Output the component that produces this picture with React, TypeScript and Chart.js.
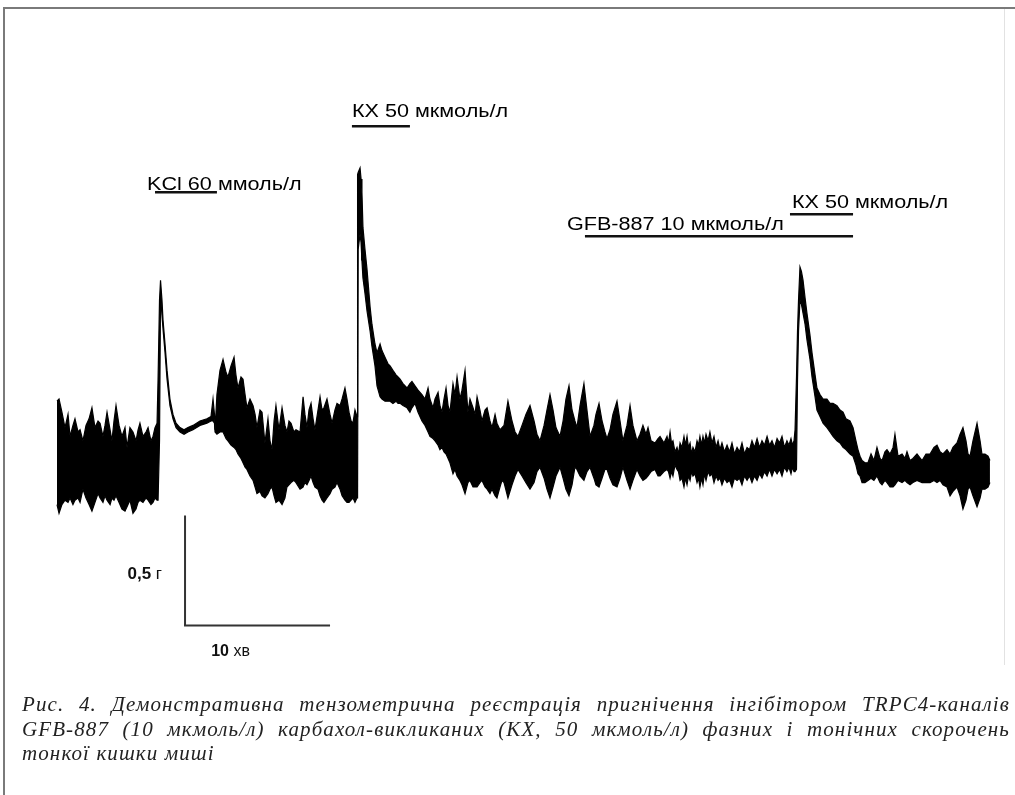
import React, { useEffect, useRef } from "react";
import { Chart, registerables } from "chart.js";

Chart.register(...registerables);

// time, minutes (10 min = scale bar)
const times = [
  0, 0.14, 0.34, 0.55, 0.76, 0.9, 1.1, 1.24, 1.45, 1.59, 1.79, 2.0, 2.21, 2.41, 2.62, 2.83, 2.97, 3.17, 3.31, 3.45,
  3.66, 3.79, 3.93, 4.07, 4.28, 4.48, 4.69, 4.83, 5.03, 5.24, 5.45, 5.59, 5.72, 5.93, 6.14, 6.28, 6.48, 6.62, 6.76, 6.9,
  6.97, 7.07, 7.14, 7.24, 7.31, 7.45, 7.59, 7.79, 8.0, 8.21, 8.48, 8.76, 9.03, 9.38, 9.86, 10.34, 10.62, 10.76, 10.86,
  10.9, 11.03, 11.24, 11.45, 11.66, 11.79, 12.0, 12.21, 12.34, 12.48, 12.69, 12.83, 12.97, 13.1, 13.31, 13.52, 13.66, 13.79, 14.0, 14.14,
  14.34, 14.55, 14.69, 14.83, 14.97, 15.1, 15.31, 15.52, 15.72, 15.86, 16.0, 16.14, 16.34, 16.48, 16.76, 16.97, 17.1, 17.24, 17.38, 17.52,
  17.66, 17.79, 18.0, 18.14, 18.28, 18.41, 18.62, 18.83, 18.97, 19.17, 19.31, 19.52, 19.66, 19.86, 20.0, 20.14, 20.28, 20.41, 20.55, 20.69,
  20.73, 20.77, 20.9, 20.97, 21.03, 21.1, 21.24, 21.38, 21.59, 21.72, 21.93, 22.07, 22.28, 22.41, 22.62, 22.83, 22.97, 23.17, 23.38, 23.52,
  23.66, 23.86, 24.14, 24.34, 24.48, 24.69, 24.9, 25.17, 25.38, 25.59, 25.72, 25.93, 26.07, 26.28, 26.41, 26.55, 26.69, 26.83, 26.97, 27.1,
  27.31, 27.45, 27.59, 27.79, 27.93, 28.14, 28.34, 28.48, 28.69, 28.83, 28.97, 29.17, 29.31, 29.52, 29.66, 29.86, 30.0, 30.21, 30.34, 30.55, 30.69,
  30.83, 31.1, 31.38, 31.59, 31.79, 32.07, 32.34, 32.62, 32.9, 33.1, 33.31, 33.59, 33.79, 34.0, 34.21, 34.41, 34.69, 34.9, 35.1, 35.31,
  35.52, 35.72, 35.86, 36.07, 36.34, 36.55, 36.76, 37.03, 37.17, 37.38, 37.59, 37.79, 37.93, 38.14, 38.34, 38.62, 38.83, 39.03, 39.31, 39.52,
  39.72, 40.0, 40.21, 40.41, 40.62, 40.76, 40.97, 41.24, 41.45, 41.59, 41.86, 42.07,
  42.17, 42.28, 42.38, 42.48, 42.62, 42.76, 42.86, 42.97, 43.1, 43.24, 43.34, 43.45, 43.55, 43.66, 43.76, 43.86, 44.0, 44.14, 44.24, 44.34,
  44.45, 44.55, 44.65, 44.76, 44.9, 45.03, 45.17, 45.31, 45.45, 45.59, 45.72, 45.86, 46.03, 46.21, 46.38, 46.55, 46.72, 46.9, 47.07, 47.24,
  47.41, 47.59, 47.76, 47.93, 48.1, 48.28, 48.45, 48.62, 48.79, 48.97, 49.14, 49.31, 49.48, 49.66, 49.83, 50.0, 50.17, 50.34, 50.48, 50.62,
  50.72, 50.83,
  50.9, 51.0, 51.07, 51.14, 51.24, 51.34, 51.45, 51.59, 51.72, 51.93, 52.07, 52.28, 52.41, 52.62, 52.83, 53.1, 53.31, 53.52, 53.79, 54.0,
  54.21, 54.41, 54.69, 54.9, 55.1, 55.24, 55.38, 55.52, 55.72, 55.93, 56.14, 56.34, 56.55, 56.76, 56.9, 57.1, 57.24, 57.45, 57.66, 57.79,
  58.0, 58.28, 58.48, 58.62, 58.83, 59.03, 59.31, 59.66, 59.93, 60.21, 60.48, 60.69, 60.9, 61.1, 61.38, 61.59, 61.79, 62.07, 62.28, 62.48,
  62.69, 62.83, 62.97, 63.17, 63.45, 63.66, 63.79, 64.0, 64.21, 64.34,
];

// upper envelope of the force trace, g
const forceUpper = [
  0.54, 0.55, 0.49, 0.42, 0.48, 0.38, 0.43, 0.46, 0.4, 0.41, 0.36, 0.43, 0.46, 0.51, 0.42, 0.45, 0.44, 0.38, 0.43, 0.49,
  0.41, 0.36, 0.45, 0.52, 0.43, 0.38, 0.42, 0.33, 0.42, 0.4, 0.36, 0.41, 0.44, 0.38, 0.4, 0.42, 0.36, 0.38, 0.42, 0.44,
  0.64, 1.0, 1.09, 1.0, 0.91, 0.8, 0.68, 0.55, 0.48, 0.44, 0.42, 0.41, 0.42, 0.43, 0.45, 0.46, 0.47, 0.55, 0.48,
  0.41, 0.57, 0.68, 0.73, 0.67, 0.65, 0.7, 0.74, 0.66, 0.6, 0.65, 0.64, 0.57, 0.51, 0.55, 0.52, 0.48, 0.42, 0.5, 0.49,
  0.35, 0.46, 0.36, 0.32, 0.45, 0.52, 0.41, 0.51, 0.43, 0.4, 0.45, 0.44, 0.4, 0.41, 0.4, 0.56, 0.48, 0.42, 0.5, 0.53,
  0.46, 0.41, 0.5, 0.56, 0.5, 0.51, 0.55, 0.48, 0.44, 0.5, 0.53, 0.52, 0.55, 0.6, 0.55, 0.49, 0.45, 0.44, 0.5, 0.47,
  1.57, 1.58, 1.6, 1.55, 1.49, 1.33, 1.23, 1.14, 0.97, 0.89, 0.8, 0.76, 0.8, 0.77, 0.74, 0.71, 0.7, 0.68, 0.66, 0.65,
  0.64, 0.62, 0.6, 0.62, 0.63, 0.61, 0.59, 0.57, 0.55, 0.6, 0.55, 0.51, 0.55, 0.58, 0.52, 0.49, 0.55, 0.6, 0.52, 0.49,
  0.62, 0.57, 0.65, 0.55, 0.59, 0.68, 0.49, 0.55, 0.51, 0.48, 0.56, 0.5, 0.45, 0.5, 0.51, 0.45, 0.42, 0.48, 0.44, 0.41, 0.42,
  0.43, 0.54, 0.45, 0.4, 0.38, 0.43, 0.48, 0.52, 0.45, 0.39, 0.36, 0.43, 0.5, 0.57, 0.5, 0.42, 0.38, 0.45, 0.55, 0.61,
  0.5, 0.45, 0.42, 0.52, 0.62, 0.5, 0.38, 0.43, 0.48, 0.53, 0.45, 0.4, 0.37, 0.41, 0.48, 0.54, 0.45, 0.36, 0.43, 0.52,
  0.43, 0.36, 0.39, 0.43, 0.39, 0.42, 0.36, 0.35, 0.37, 0.38, 0.35, 0.38,
  0.35, 0.4, 0.35, 0.36, 0.31, 0.33, 0.3, 0.35, 0.33, 0.38, 0.34, 0.38, 0.33, 0.35, 0.3, 0.33, 0.31, 0.36, 0.34, 0.38,
  0.34, 0.38, 0.35, 0.39, 0.36, 0.4, 0.35, 0.38, 0.33, 0.36, 0.32, 0.35, 0.31, 0.34, 0.31, 0.35, 0.3, 0.33, 0.31, 0.35,
  0.3, 0.33, 0.32, 0.36, 0.33, 0.37, 0.33, 0.36, 0.34, 0.38, 0.34, 0.36, 0.33, 0.37, 0.35, 0.38, 0.33, 0.36, 0.34, 0.37,
  0.34, 0.36,
  0.41, 0.65, 0.86, 1.0, 1.15, 1.13, 1.09, 1.01, 0.94, 0.84, 0.76, 0.66, 0.6, 0.57, 0.55, 0.55, 0.53, 0.53, 0.52, 0.5,
  0.49, 0.46, 0.45, 0.42, 0.36, 0.32, 0.29, 0.27, 0.26, 0.26, 0.3, 0.27, 0.33, 0.28, 0.27, 0.31, 0.32, 0.3, 0.33, 0.39,
  0.29, 0.3, 0.28, 0.31, 0.27, 0.28, 0.3, 0.27, 0.3, 0.3, 0.33, 0.34, 0.31, 0.3, 0.32, 0.3, 0.33, 0.35, 0.39, 0.42,
  0.36, 0.3, 0.29, 0.36, 0.44, 0.36, 0.3, 0.3, 0.29, 0.27,
];

// lower envelope of the force trace, g
const forceLower = [
  0.07, 0.03, 0.07, 0.09, 0.08, 0.1, 0.07, 0.09, 0.1, 0.08, 0.14, 0.1, 0.07, 0.04, 0.08, 0.12, 0.1, 0.08, 0.11, 0.09,
  0.07, 0.1, 0.09, 0.11, 0.08, 0.05, 0.04, 0.06, 0.09, 0.03, 0.05, 0.08, 0.09, 0.08, 0.1, 0.09, 0.07, 0.08, 0.1, 0.09,
  0.09, 0.36, 1.02, 0.93, 0.87, 0.76, 0.64, 0.52, 0.46, 0.42, 0.4, 0.39, 0.4, 0.41, 0.43, 0.44, 0.45, 0.45, 0.44,
  0.4, 0.39, 0.4, 0.4, 0.37, 0.36, 0.34, 0.33, 0.32, 0.3, 0.28, 0.26, 0.24, 0.23, 0.2, 0.18, 0.15, 0.12, 0.13, 0.11,
  0.1, 0.12, 0.14, 0.15, 0.11, 0.08, 0.09, 0.07, 0.1, 0.15, 0.16, 0.17, 0.18, 0.17, 0.14, 0.15, 0.17, 0.16, 0.18, 0.2,
  0.17, 0.15, 0.14, 0.11, 0.09, 0.08, 0.1, 0.12, 0.14, 0.15, 0.17, 0.14, 0.11, 0.09, 0.08, 0.08, 0.09, 0.1, 0.08, 0.1,
  0.14, 1.23, 1.3, 1.26, 1.18, 1.1, 1.03, 0.95, 0.86, 0.79, 0.7, 0.61, 0.56, 0.55, 0.54, 0.54, 0.54, 0.53, 0.54, 0.53,
  0.53, 0.52, 0.51, 0.49, 0.51, 0.53, 0.49, 0.45, 0.43, 0.4, 0.38, 0.37, 0.36, 0.34, 0.32, 0.33, 0.31, 0.3, 0.28, 0.26,
  0.21, 0.23, 0.2, 0.18, 0.16, 0.12, 0.17, 0.18, 0.15, 0.15, 0.15, 0.17, 0.18, 0.15, 0.14, 0.12, 0.14, 0.11, 0.1, 0.15, 0.18,
  0.17, 0.1, 0.16, 0.2, 0.23, 0.2, 0.17, 0.14, 0.17, 0.22, 0.24, 0.19, 0.14, 0.1, 0.15, 0.2, 0.24, 0.19, 0.14, 0.11,
  0.16, 0.24, 0.23, 0.2, 0.18, 0.22, 0.24, 0.19, 0.16, 0.15, 0.19, 0.23, 0.23, 0.19, 0.16, 0.15, 0.19, 0.24, 0.18, 0.14,
  0.18, 0.23, 0.2, 0.18, 0.19, 0.2, 0.22, 0.23, 0.2, 0.2, 0.22, 0.23,
  0.22, 0.19, 0.22, 0.2, 0.25, 0.23, 0.22, 0.18, 0.19, 0.15, 0.19, 0.16, 0.2, 0.18, 0.22, 0.2, 0.21, 0.17, 0.19, 0.15,
  0.19, 0.16, 0.21, 0.18, 0.22, 0.2, 0.21, 0.17, 0.2, 0.18, 0.19, 0.16, 0.19, 0.17, 0.18, 0.15, 0.19, 0.18, 0.19, 0.16,
  0.2, 0.18, 0.2, 0.17, 0.2, 0.18, 0.21, 0.19, 0.22, 0.2, 0.23, 0.2, 0.23, 0.21, 0.23, 0.2, 0.24, 0.22, 0.24, 0.21,
  0.24, 0.22,
  0.22, 0.23, 0.64, 0.86, 1.0, 0.98, 0.94, 0.89, 0.82, 0.73, 0.65, 0.56, 0.5, 0.47, 0.44, 0.42, 0.4, 0.38, 0.36, 0.35,
  0.33, 0.32, 0.3, 0.29, 0.25, 0.21, 0.2, 0.17, 0.17, 0.18, 0.19, 0.18, 0.2, 0.17, 0.16, 0.18, 0.17, 0.15, 0.15, 0.16,
  0.18, 0.17, 0.18, 0.17, 0.16, 0.17, 0.18, 0.17, 0.17, 0.17, 0.18, 0.17, 0.18, 0.16, 0.15, 0.11, 0.13, 0.15, 0.11, 0.05,
  0.09, 0.14, 0.15, 0.11, 0.06, 0.1, 0.14, 0.14, 0.15, 0.17,
];

// drug applications: label, bar start/end (min), bar level (g), label start (min), label baseline (g)
const drugNames = ["KCl 60 ммоль/л", "КХ 50 мкмоль/л", "GFB-887 10 мкмоль/л", "КХ 50 мкмоль/л"];
const drugStart = [6.76, 20.34, 36.41, 50.55];
const drugEnd = [11.03, 24.34, 54.9, 54.9];
const drugLevel = [1.49, 1.79, 1.29, 1.39];
const labelStart = [6.21, 20.34, 35.17, 50.69];
const labelLevel = [1.5, 1.83, 1.32, 1.42];

// calibration bar: 0.5 g, 10 min
const scaleBarT = [8.83, 8.83, 18.83];
const scaleBarG = [0.02, -0.48, -0.48];
const scaleLabels = ["0,5", "г", "10", "хв"];

const X_MIN = -3.931;
const X_MAX = 66.069;
const Y_MIN = -1.25;
const Y_MAX = 2.3636;

const captionLines = [
  "Рис. 4. Демонстративна тензометрична реєстрація пригнічення інгібітором TRPC4-каналів",
  "GFB-887 (10 мкмоль/л) карбахол-викликаних (КХ, 50 мкмоль/л) фазних і тонічних скорочень",
  "тонкої кишки миші",
];

const labelsPlugin = {
  id: "traceLabels",
  afterDatasetsDraw(chart: any) {
    const ctx = chart.ctx;
    const xs = chart.scales.x;
    const ys = chart.scales.y;
    ctx.save();
    ctx.fillStyle = "#000";
    ctx.textBaseline = "alphabetic";
    ctx.font = '18px "Liberation Sans", Arial, sans-serif';
    drugNames.forEach((name, i) => {
      const x = xs.getPixelForValue(labelStart[i]);
      const y = ys.getPixelForValue(labelLevel[i]);
      ctx.save();
      ctx.translate(x, y);
      ctx.scale(1.2, 1);
      ctx.fillText(name, 0, 0);
      ctx.restore();
    });
    ctx.fillStyle = "#111";
    // calibration labels
    const bx = xs.getPixelForValue(scaleBarT[0]);
    const by = ys.getPixelForValue((scaleBarG[0] + scaleBarG[1]) / 2);
    ctx.font = 'bold 17px "Liberation Sans", Arial, sans-serif';
    const w1 = ctx.measureText(scaleLabels[0] + " ").width;
    ctx.font = '17px "Liberation Sans", Arial, sans-serif';
    const w2 = ctx.measureText(scaleLabels[1]).width;
    const startX = bx - 23 - w1 - w2;
    ctx.font = 'bold 17px "Liberation Sans", Arial, sans-serif';
    ctx.fillText(scaleLabels[0], startX, by + 8);
    ctx.font = '17px "Liberation Sans", Arial, sans-serif';
    ctx.fillText(scaleLabels[1], startX + w1, by + 8);

    const hx = xs.getPixelForValue((scaleBarT[1] + scaleBarT[2]) / 2);
    const hy = ys.getPixelForValue(scaleBarG[2]);
    ctx.font = 'bold 16px "Liberation Sans", Arial, sans-serif';
    const w3 = ctx.measureText(scaleLabels[2] + " ").width;
    ctx.font = '16px "Liberation Sans", Arial, sans-serif';
    const w4 = ctx.measureText(scaleLabels[3]).width;
    const sx = hx - 27 - (w3 + w4) / 2;
    ctx.font = 'bold 16px "Liberation Sans", Arial, sans-serif';
    ctx.fillText(scaleLabels[2], sx, hy + 30);
    ctx.font = '16px "Liberation Sans", Arial, sans-serif';
    ctx.fillText(scaleLabels[3], sx + w3, hy + 30);
    ctx.restore();
  },
};

export default function App() {
  const ref = useRef<HTMLCanvasElement | null>(null);

  useEffect(() => {
    if (!ref.current) return;
    const upperData = times.map((t, i) => ({ x: t, y: forceUpper[i] }));
    const lowerData = times.map((t, i) => ({ x: t, y: forceLower[i] }));
    const drugSets = drugNames.map((name, i) => ({
      label: name,
      data: [
        { x: drugStart[i], y: drugLevel[i] },
        { x: drugEnd[i], y: drugLevel[i] },
      ],
      borderColor: "#111",
      borderWidth: 2.5,
      pointRadius: 0,
      fill: false,
    }));
    const chart = new Chart(ref.current, {
      type: "line",
      data: {
        datasets: [
          {
            label: "upper",
            data: upperData,
            borderColor: "#000",
            backgroundColor: "#000",
            borderWidth: 1.2,
            pointRadius: 0,
            tension: 0,
            fill: "+1",
          },
          {
            label: "lower",
            data: lowerData,
            borderColor: "#000",
            borderWidth: 1.2,
            pointRadius: 0,
            tension: 0,
            fill: false,
          },
          {
            label: "calibration",
            data: scaleBarT.map((t, i) => ({ x: t, y: scaleBarG[i] })),
            borderColor: "#333",
            borderWidth: 2,
            pointRadius: 0,
            fill: false,
          },
          ...drugSets,
        ],
      },
      options: {
        animation: false,
        responsive: false,
        devicePixelRatio: 1,
        events: [],
        layout: { padding: 0 },
        plugins: { legend: { display: false }, tooltip: { enabled: false } },
        scales: {
          x: { type: "linear", min: X_MIN, max: X_MAX, display: false },
          y: { type: "linear", min: Y_MIN, max: Y_MAX, display: false },
        },
      },
      plugins: [labelsPlugin],
    });
    return () => chart.destroy();
  }, []);

  return (
    <div style={{ position: "absolute", left: 0, top: 0, width: 1015, height: 795, background: "#fff", overflow: "hidden" }}>
      <canvas ref={ref} width={1015} height={795} style={{ position: "absolute", left: 0, top: 0 }} />
      <div style={{ position: "absolute", left: 3, top: 7, width: 1012, height: 0, borderTop: "2px solid #7a7a7a" }} />
      <div style={{ position: "absolute", left: 3, top: 7, width: 0, height: 788, borderLeft: "2px solid #7a7a7a" }} />
      <div style={{ position: "absolute", left: 1004, top: 9, width: 0, height: 656, borderLeft: "1px solid #e2e2e2" }} />
      <div
        style={{
          position: "absolute",
          left: 22,
          top: 692,
          width: 988,
          font: 'italic 21px "Liberation Serif", serif',
          letterSpacing: "1.1px",
          lineHeight: "24.5px",
          color: "#222",
        }}
      >
        {captionLines.map((line, i) => (
          <div
            key={i}
            style={{
              textAlign: i < 2 ? "justify" : "left",
              textAlignLast: i < 2 ? "justify" : "left",
              whiteSpace: "nowrap",
            } as any}
          >
            {line}
          </div>
        ))}
      </div>
    </div>
  );
}
